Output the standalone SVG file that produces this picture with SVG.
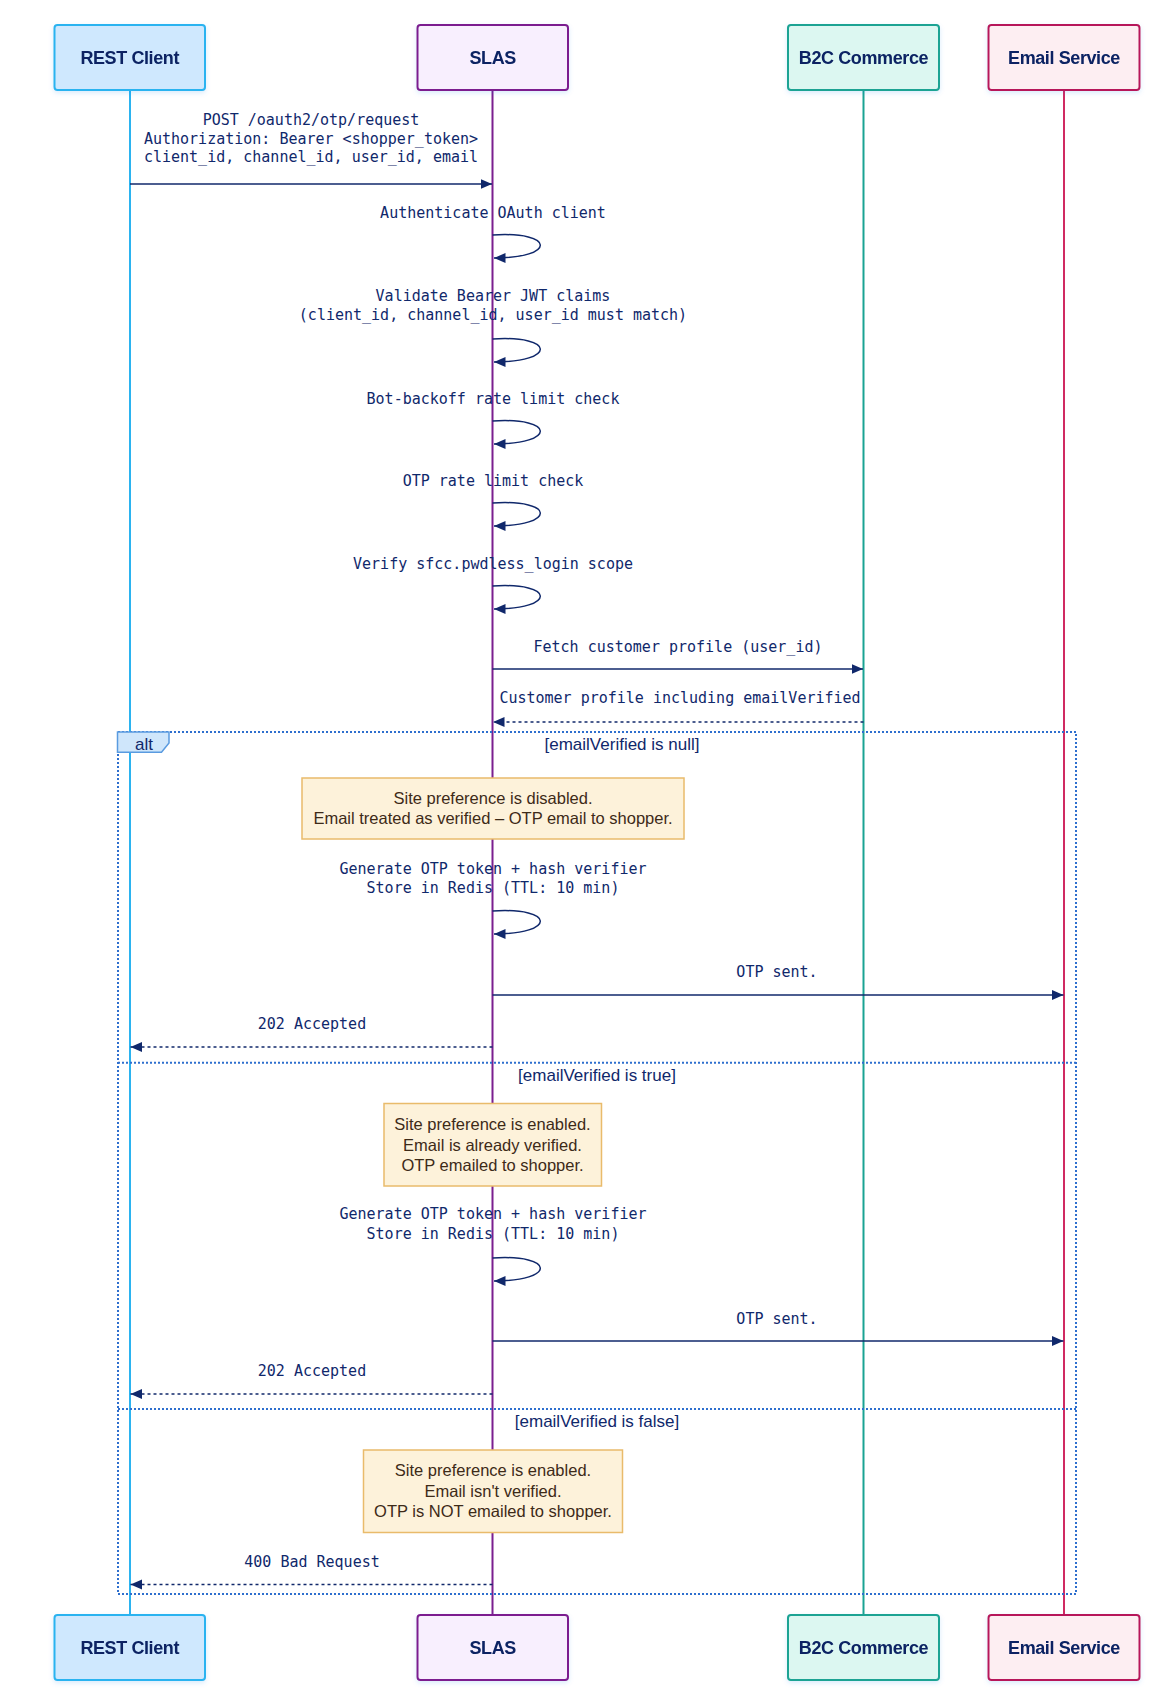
<svg xmlns="http://www.w3.org/2000/svg" width="1168" height="1708" viewBox="0 0 1168 1708">
<style>
.pl{font-family:"Liberation Sans",Arial,sans-serif;font-weight:bold;font-size:18px;fill:#0a2463;text-anchor:middle;letter-spacing:-0.4px}
.msg{font-family:"DejaVu Sans Mono","Liberation Mono",monospace;font-size:15px;fill:#10286b;text-anchor:middle}
.sans{font-family:"Liberation Sans",Arial,sans-serif;font-size:17px;fill:#10286b;text-anchor:middle}
.nt{font-family:"Liberation Sans",Arial,sans-serif;font-size:16.5px;fill:#3d2a18;text-anchor:middle}
.note{fill:#fdf2da;stroke:#e9bb6b;stroke-width:1.5}
.solid{stroke:#10286b;stroke-width:1.5;fill:none;marker-end:url(#ah)}
.dash{stroke:#10286b;stroke-width:1.5;fill:none;stroke-dasharray:3 3;marker-end:url(#ah)}
.loop{stroke:#10286b;stroke-width:1.5;fill:none;marker-end:url(#ah)}
.alt{fill:none;stroke:#2e6fce;stroke-width:2;stroke-dasharray:2 2}
</style>
<defs>
<marker id="ah" markerUnits="userSpaceOnUse" markerWidth="12" markerHeight="11" refX="11.5" refY="5" orient="auto">
<path d="M0,0 L11.5,5 L0,10 z" fill="#10286b"/>
</marker>
<filter id="sh" x="-10%" y="-10%" width="120%" height="130%">
<feDropShadow dx="0" dy="2" stdDeviation="2.5" flood-color="#1a73e8" flood-opacity="0.15"/>
</filter>
</defs>
<rect width="1168" height="1708" fill="#ffffff"/>

<g id="lifelines">
<line x1="130" y1="90" x2="130" y2="1615" stroke="#2bb3f0" stroke-width="2"/>
<line x1="492.5" y1="90" x2="492.5" y2="1615" stroke="#7b1f8f" stroke-width="2"/>
<line x1="863.5" y1="90" x2="863.5" y2="1615" stroke="#1aa393" stroke-width="2"/>
<line x1="1064" y1="90" x2="1064" y2="1615" stroke="#d02a62" stroke-width="2"/>
</g>

<g id="alt-frame">
<rect class="alt" x="118" y="732" width="958" height="862"/>
<line class="alt" x1="118" y1="1062.7" x2="1076" y2="1062.7"/>
<line class="alt" x1="118" y1="1409" x2="1076" y2="1409"/>
<path d="M117.5,732 H169 V743 L161.5,752.3 H117.5 Z" fill="#cfe6fb" stroke="#5a9be0" stroke-width="1.5"/>
<text class="sans" x="144" y="749.5">alt</text>
<text class="sans" x="622" y="749.5">[emailVerified is null]</text>
<text class="sans" x="597" y="1080.5">[emailVerified is true]</text>
<text class="sans" x="597" y="1427">[emailVerified is false]</text>
</g>

<g id="note1">
<rect class="note" x="302" y="778" width="382" height="61"/>
<text class="nt" x="493" y="804">Site preference is disabled.</text>
<text class="nt" x="493" y="824">Email treated as verified – OTP email to shopper.</text>
</g>
<g id="note2">
<rect class="note" x="384" y="1103.5" width="217.5" height="82.5"/>
<text class="nt" x="492.5" y="1129.5">Site preference is enabled.</text>
<text class="nt" x="492.5" y="1150.5">Email is already verified.</text>
<text class="nt" x="492.5" y="1170.5">OTP emailed to shopper.</text>
</g>
<g id="note3">
<rect class="note" x="363.5" y="1450" width="259" height="82.5"/>
<text class="nt" x="493" y="1475.5">Site preference is enabled.</text>
<text class="nt" x="493" y="1496.5">Email isn't verified.</text>
<text class="nt" x="493" y="1516.5">OTP is NOT emailed to shopper.</text>
</g>

<g id="messages">
<text class="msg" x="311" y="125">POST /oauth2/otp/request</text>
<text class="msg" x="311" y="143.5">Authorization: Bearer &lt;shopper_token&gt;</text>
<text class="msg" x="311" y="162">client_id, channel_id, user_id, email</text>
<line class="solid" x1="130" y1="184" x2="492" y2="184"/>

<text class="msg" x="493" y="218">Authenticate OAuth client</text>
<path class="loop" d="M492.5,235 C556,231 556,258 494,258"/>

<text class="msg" x="493" y="301">Validate Bearer JWT claims</text>
<text class="msg" x="493" y="320">(client_id, channel_id, user_id must match)</text>
<path class="loop" d="M492.5,339 C556,335 556,362 494,362"/>

<text class="msg" x="493" y="404">Bot-backoff rate limit check</text>
<path class="loop" d="M492.5,421 C556,417 556,444 494,444"/>

<text class="msg" x="493" y="485.5">OTP rate limit check</text>
<path class="loop" d="M492.5,503 C556,499 556,526 494,526"/>

<text class="msg" x="493" y="569">Verify sfcc.pwdless_login scope</text>
<path class="loop" d="M492.5,586 C556,582 556,609 494,609"/>

<text class="msg" x="678" y="652">Fetch customer profile (user_id)</text>
<line class="solid" x1="492.5" y1="669" x2="863" y2="669"/>

<text class="msg" x="680" y="703">Customer profile including emailVerified</text>
<line class="dash" x1="863.5" y1="722" x2="493" y2="722"/>

<text class="msg" x="493" y="873.5">Generate OTP token + hash verifier</text>
<text class="msg" x="493" y="893">Store in Redis (TTL: 10 min)</text>
<path class="loop" d="M492.5,911 C556,907 556,934 494,934"/>

<text class="msg" x="777" y="977">OTP sent.</text>
<line class="solid" x1="492.5" y1="995" x2="1063.5" y2="995"/>

<text class="msg" x="312" y="1029">202 Accepted</text>
<line class="dash" x1="492.5" y1="1047" x2="130.5" y2="1047"/>

<text class="msg" x="493" y="1219">Generate OTP token + hash verifier</text>
<text class="msg" x="493" y="1238.5">Store in Redis (TTL: 10 min)</text>
<path class="loop" d="M492.5,1258 C556,1254 556,1281 494,1281"/>

<text class="msg" x="777" y="1323.5">OTP sent.</text>
<line class="solid" x1="492.5" y1="1341" x2="1063.5" y2="1341"/>

<text class="msg" x="312" y="1376">202 Accepted</text>
<line class="dash" x1="492.5" y1="1394" x2="130.5" y2="1394"/>

<text class="msg" x="312" y="1566.5">400 Bad Request</text>
<line class="dash" x1="492.5" y1="1584.5" x2="130.5" y2="1584.5"/>
</g>

<g id="rest-client-top" filter="url(#sh)">
<rect x="54.5" y="25" width="150.5" height="65" rx="3" fill="#cfe8fe" stroke="#2bb3f0" stroke-width="2"/>
<text class="pl" x="129.7" y="64">REST Client</text>
</g>
<g id="slas-top" filter="url(#sh)">
<rect x="417.5" y="25" width="150.5" height="65" rx="3" fill="#f8effe" stroke="#7b1f8f" stroke-width="2"/>
<text class="pl" x="492.7" y="64">SLAS</text>
</g>
<g id="b2c-top" filter="url(#sh)">
<rect x="788" y="25" width="151" height="65" rx="3" fill="#dcf7f1" stroke="#1aa393" stroke-width="2"/>
<text class="pl" x="863.5" y="64">B2C Commerce</text>
</g>
<g id="email-top" filter="url(#sh)">
<rect x="988.5" y="25" width="151" height="65" rx="3" fill="#fdeef2" stroke="#b7185a" stroke-width="2"/>
<text class="pl" x="1064" y="64">Email Service</text>
</g>

<g id="rest-client-bottom" filter="url(#sh)">
<rect x="54.5" y="1615" width="150.5" height="65" rx="3" fill="#cfe8fe" stroke="#2bb3f0" stroke-width="2"/>
<text class="pl" x="129.7" y="1654">REST Client</text>
</g>
<g id="slas-bottom" filter="url(#sh)">
<rect x="417.5" y="1615" width="150.5" height="65" rx="3" fill="#f8effe" stroke="#7b1f8f" stroke-width="2"/>
<text class="pl" x="492.7" y="1654">SLAS</text>
</g>
<g id="b2c-bottom" filter="url(#sh)">
<rect x="788" y="1615" width="151" height="65" rx="3" fill="#dcf7f1" stroke="#1aa393" stroke-width="2"/>
<text class="pl" x="863.5" y="1654">B2C Commerce</text>
</g>
<g id="email-bottom" filter="url(#sh)">
<rect x="988.5" y="1615" width="151" height="65" rx="3" fill="#fdeef2" stroke="#b7185a" stroke-width="2"/>
<text class="pl" x="1064" y="1654">Email Service</text>
</g>
</svg>
